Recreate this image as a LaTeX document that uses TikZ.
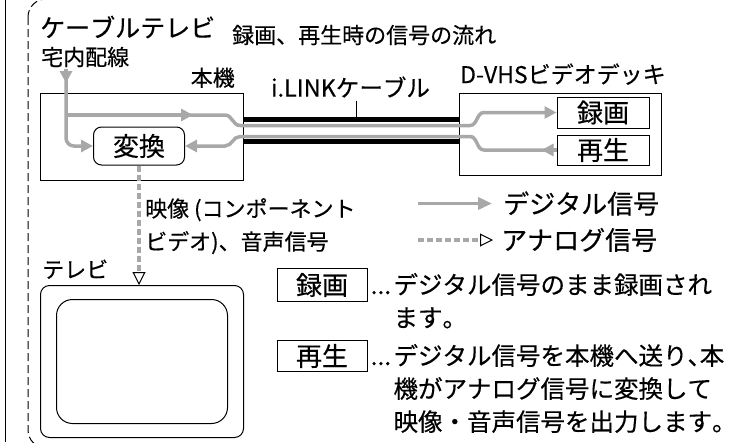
\documentclass[tikz,border=0pt]{standalone}
\usepackage{fontspec}
\newfontfamily\jp[Kerning=Off, FakeBold=0.4]{Noto Sans CJK JP}
\usepackage{tikz}
\usetikzlibrary{arrows.meta, positioning, calc}
\definecolor{sgray}{HTML}{A8A8A8}

\begin{document}
\begin{tikzpicture}[
        x=1pt, y=-1pt,
        >=Stealth,
        lbl/.style={inner sep=0pt, font=\jp\fontsize{22}{33}\selectfont},
        biglbl/.style={lbl, font=\jp\fontsize{23.5}{33}\selectfont},
        txt/.style={inner sep=0pt, font=\jp\fontsize{24.5}{33}\selectfont},
        legtxt/.style={inner sep=0pt, font=\jp\fontsize{26}{30}\selectfont},
        box/.style={
            rectangle, 
            draw, 
            line width=1pt, 
            inner sep=0pt, 
            font=\jp\fontsize{26}{30}\selectfont
        },
        frame/.style={draw, line width=1pt, minimum width=203pt, anchor=north west},
        sig/.style={draw=sgray, line width=3.5pt, -{Triangle[length=12pt, width=12pt]}},
        ana/.style={
            draw=sgray, 
            line width=4pt, 
            dash pattern=on 6pt off 3pt, 
            -{Triangle[length=13pt, width=13pt, line width=1pt, color=black, fill=white]}
        },
        cable/.style={line width=5pt}
    ]
    \useasboundingbox (0,0) rectangle (741,442);

    % bordo della pagina
    \draw[line width=1pt] (5.5,0) -- (5.5,442);
    \begin{scope}
        \clip (0,0) rectangle (741,442);
        \draw[line width=1pt, dash pattern=on 8pt off 4pt, rounded corners=18pt] (28,-1) rectangle (900,448);
    \end{scope}

    % blocchi
    \node[frame, minimum height=87pt] (unit) at (40,93) {};
    \node[box, rounded corners=8pt, minimum width=91pt, minimum height=38pt] (conv) at (139,146) {変換};
    \node[frame, minimum width=202pt, minimum height=82pt] (deck) at (459,93) {};
    \node[box, minimum width=92pt, minimum height=31pt] (rec) at (603,112.5) {録画};
    \node[box, minimum width=92pt, minimum height=30pt] (play) at (603,150) {再生};
    \node[frame, rounded corners=9pt, minimum height=152pt] (tv) at (40,285) {};
    \node[draw, line width=1pt, rounded corners=16pt, minimum width=171pt, minimum height=124pt] (screen) at (tv.center) {};

    % etichette
    \node[lbl, anchor=west, font=\jp\fontsize{25}{33}\selectfont] (catv) at (40,27) {ケーブルテレビ};
    \node[lbl, anchor=west] (wire) at (41,57) {宅内配線};
    \node[lbl, anchor=west] (title) at (232,35) {録画、再生時の信号の流れ};
    \node[lbl, above left=5pt and 9pt of unit.north east] (unitlbl) {本機};
    \node[biglbl] (link) at (350.5,87) {i.LINKケーブル};
    \node[lbl, font=\jp\fontsize{23}{33}\selectfont, above right=8pt and 1pt of deck.north west] (decklbl) {D-VHSビデオデッキ};
    \node[lbl, align=left, anchor=north west] (avlbl) at (145,198) {映像 (コンポーネント\\ビデオ)、音声信号};
    \node[lbl, above right=6pt and 2pt of tv.north west] (tvlbl) {テレビ};

    % cavo i.LINK
    \draw[cable] ($(unit.north east)+(0,26.5)$) -- ($(deck.north west)+(0,26.5)$);
    \draw[cable] ($(unit.north east)+(0,48.5)$) -- ($(deck.north west)+(0,48.5)$);
    \coordinate (tick) at (356,117);
    \draw[line width=1pt] ([yshift=-3pt]link.south -| tick) -- (tick);

    % segnali digitali
    \coordinate (in) at (66,69);
    \coordinate (split) at (66,115);
    \draw[sig, rounded corners=8pt] (in) |- (conv.west);
    \draw[sig] (in) -- ++(0,14);
    \draw[sig] (split) -- (225,115) to[out=0,in=180] (240,125.5) -- (470,125.5)
        to[out=0,in=180] (484,112.5) -- (rec.west);
    \draw[sig] (split) -- ++(127,0);
    \draw[sig] (play.west) -- (484,150) to[out=180,in=0] (470,136.5) -- (240,136.5)
        to[out=180,in=0] (225,146) -- (conv.east);
    \draw[sig] (play.west) -- ++(-15,0);

    % segnale analogico
    \draw[ana] (conv.south) -- (conv.south |- tv.north);

    % legenda
    \node[legtxt, anchor=west] (dig) at (503,203.5) {デジタル信号};
    \node[legtxt, anchor=west] (anl) at (501,240) {アナログ信号};
    \coordinate (d0) at (418,203.5);
    \coordinate (a0) at (418,240);
    \draw[sig, -{Triangle[length=14pt, width=12pt]}] (d0) -- ([xshift=-11pt]dig.west);
    \draw[ana] (a0) -- ([xshift=-8pt]anl.west);

    % spiegazione
    \node[box, minimum width=90pt, minimum height=33pt] (recL) at (322,285) {録画};
    \node[txt, right=3pt of recL, text height=21pt, text depth=3pt] (recdots) {...};
    \node[txt, align=left, anchor=north west] (rectxt) at ([xshift=2pt]recdots.north east)
        {デジタル信号のまま録画され\\ます。};
    \node[box, minimum width=90pt, minimum height=31pt] (playL) at (322,356) {再生};
    \node[txt, right=3pt of playL, text height=21pt, text depth=3pt] (playdots) {...};
    \node[txt, align=left, anchor=north west] (playtxt) at ([xshift=2pt]playdots.north east)
        {デジタル信号を本機へ送り{\addfontfeature{RawFeature=+halt}、}本\\機がアナログ信号に変換して\\映像・音声信号を出力します。};

\end{tikzpicture}
\end{document}
